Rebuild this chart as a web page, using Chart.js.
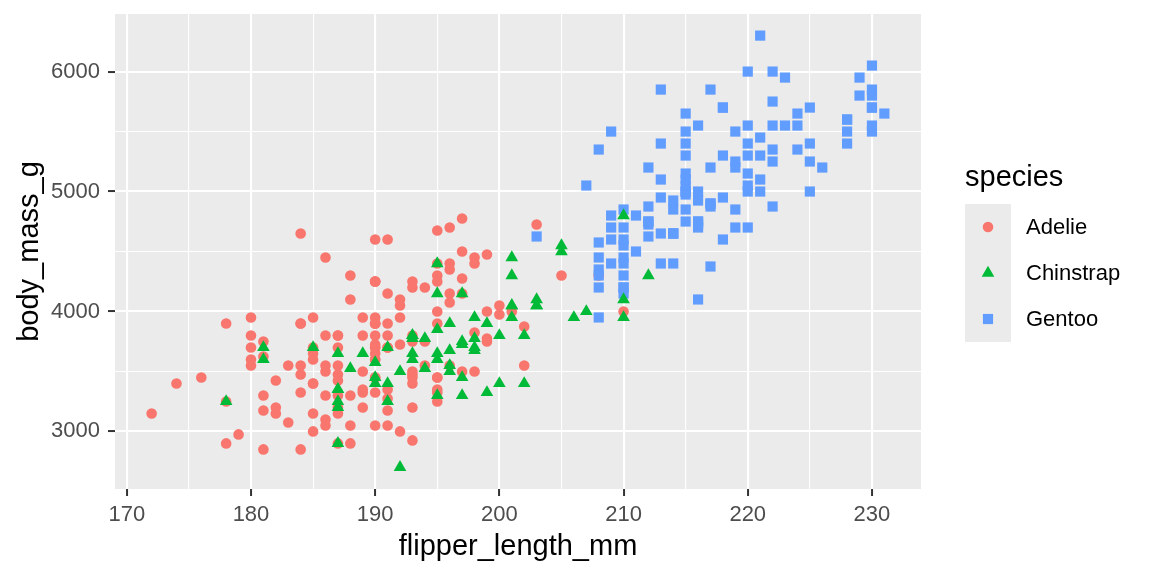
<!DOCTYPE html>
<html lang="en">
<head>
    <meta charset="UTF-8">
    <title>Penguins: flipper length vs body mass</title>
    <script src="https://cdn.jsdelivr.net/npm/chart.js"></script>
    <style>
        html, body { margin: 0; padding: 0; background: #ffffff; }
        #wrap { width: 1152px; height: 576px; }
    </style>
</head>
<body>
    <div id="wrap"><canvas id="penguinChart" width="1152" height="576"></canvas></div>

    <script>
        // data (flipper_length_mm, body_mass_g)
        const species = ['Adelie', 'Chinstrap', 'Gentoo'];

        const adelieFlipper = [
            181, 186, 195, 193, 190, 181, 195, 193, 190, 186, 180, 182, 191, 198, 185, 195, 197, 184, 194,
            174, 180, 189, 185, 180, 187, 183, 187, 172, 180,
            178, 178, 188, 184, 195, 196, 190, 180, 181, 184, 182, 195, 186, 196, 185, 190, 182, 179, 190, 191,
            186, 188, 190, 200, 187, 191, 186, 193, 181, 194, 185, 195, 185, 192, 184, 192, 195, 188, 190, 198,
            190, 190, 196, 197, 190, 195, 191, 184, 187, 195, 189, 196, 187, 193, 191, 194, 190, 189, 189, 190,
            202, 205, 185, 186, 187, 208, 190, 196, 178, 192,
            192, 203, 183, 190, 193, 184, 199, 190, 181, 197, 198, 191, 193, 197, 191, 196, 188, 199, 189, 189,
            187, 198, 176, 202, 186, 199, 191, 195, 191, 210, 190, 197, 193,
            199, 187, 190, 191, 200, 185, 193, 193, 187, 188, 190, 192, 185, 190, 184, 195, 193, 187, 201
        ];
        const adelieMass = [
            3750, 3800, 3250, 3450, 3650, 3625, 4675, 3475, 4250, 3300, 3700, 3200, 3800, 4400, 3700, 3450, 4500, 3325, 4200,
            3400, 3600, 3800, 3950, 3800, 3800, 3550, 3200, 3150, 3950,
            3250, 3900, 3300, 3900, 3325, 4150, 3950, 3550, 3300, 4650, 3150, 3900, 3100, 4400, 3000, 4600, 3425, 2975, 3450, 4150,
            3500, 4300, 3450, 4050, 2900, 3700, 3550, 3800, 2850, 3750, 3150, 4400, 3600, 4050, 2850, 3950, 3350, 4100, 3050, 4450,
            3600, 3900, 3550, 4150, 3700, 4250, 3700, 3900, 3550, 4000, 3200, 4700, 3800, 4200, 3350, 3550, 3800, 3500, 3950, 3600,
            3550, 4300, 3400, 4450, 3300, 4300, 3700, 4350, 2900, 4100,
            3725, 4725, 3075, 4250, 2925, 3550, 3750, 3900, 3175, 4775, 3825, 4600, 3200, 4275, 3900, 4075, 2900, 3775, 3350, 3325,
            3150, 3500, 3450, 3875, 3050, 4000, 3275, 4300, 3050, 4000, 3325, 3500, 3500,
            4475, 3425, 3900, 3175, 3975, 3400, 4250, 3400, 3475, 3050, 3725, 3000, 3650, 4250, 3475, 3450, 3750, 3700, 4000
        ];

        const chinstrapFlipper = [
            192, 196, 193, 188, 197, 198, 178, 197, 195, 198, 193, 194, 185, 201, 190, 201, 197, 181, 190, 195,
            181, 191, 187, 193, 195, 197, 200, 200, 191, 205, 187, 201, 187, 203, 195, 199, 195, 210, 192, 205,
            210, 187, 196, 196, 196, 201, 190, 212, 187, 198, 199, 201, 193, 203, 187, 197, 191, 203, 202, 194,
            206, 189, 195, 207, 202, 193, 210, 198
        ];
        const chinstrapMass = [
            3500, 3900, 3650, 3525, 3725, 3950, 3250, 3750, 4150, 3700, 3800, 3775, 3700, 4050, 3575, 4050, 3300, 3700, 3450, 4400,
            3600, 3400, 2900, 3800, 3300, 4150, 3400, 3800, 3700, 4550, 3200, 4300, 3350, 4100, 3600, 3900, 3850, 4800, 2700, 4500,
            3950, 3650, 3550, 3500, 3675, 4450, 3400, 4300, 3250, 3675, 3325, 3950, 3600, 4050, 3350, 3450, 3250, 4050, 3800, 3525,
            3950, 3650, 3650, 4000, 3400, 3775, 4100, 3775
        ];

        const gentooFlipper = [
            211, 230, 210, 218, 215, 210, 211, 219, 209, 215, 214, 216, 214, 213, 210, 217, 210, 221, 209, 222,
            218, 215, 213, 215, 215, 215, 216, 215, 210, 220, 222, 209, 207, 230, 220, 220, 213, 219, 208, 208,
            208, 225, 210, 216, 222, 217, 210, 225, 213, 215, 210, 220, 210, 225, 217, 220, 208, 220, 208, 224,
            208, 221, 214, 231, 219, 230, 214, 229, 220, 223, 216, 221, 221, 217, 216, 230, 209, 220, 215, 223,
            212, 221, 212, 224, 212, 228, 218, 218, 212, 230, 218, 228, 212, 224, 214, 226, 216, 222, 203, 225,
            219, 228, 215, 228, 216, 215, 210, 219, 208, 209, 216, 229, 213, 230, 217, 230, 217, 222, 214, 215,
            222, 212, 213
        ];
        const gentooMass = [
            4500, 5700, 4450, 5700, 5400, 4550, 4800, 5200, 4400, 5150, 4650, 5550, 4650, 5850, 4200, 5850, 4150, 6300, 4800, 5350,
            5700, 5000, 4400, 5050, 5000, 5100, 4100, 5650, 4600, 5550, 5250, 4700, 5050, 6050, 5150, 5400, 4950, 5250, 4350, 5350,
            3950, 5700, 4300, 4750, 5550, 4900, 4200, 5400, 5100, 5300, 4850, 5300, 4400, 5000, 4900, 5050, 4300, 5000, 4450, 5550,
            4200, 5300, 4400, 5650, 4700, 5700, 4650, 5800, 4700, 5550, 4750, 5000, 5100, 5200, 4700, 5800, 4600, 6000, 4750, 5950,
            4625, 5450, 4725, 5350, 4750, 5600, 4600, 5300, 4875, 5550, 4950, 5400, 4750, 5650, 4850, 5200, 4925, 4875, 4625, 5250,
            4850, 5600, 4975, 5500, 4725, 5500, 4700, 5500, 4575, 5500, 5000, 5950, 4650, 5500, 4375, 5850, 4875, 6000, 4925, 4850,
            5750, 5200, 5400
        ];

        // axis breaks: majors get labels, the in-between values only a thin grid line
        const xBreaks = [170, 175, 180, 185, 190, 195, 200, 205, 210, 215, 220, 225, 230];
        const xLabels = [170, 180, 190, 200, 210, 220, 230];
        const yBreaks = [3000, 3500, 4000, 4500, 5000, 5500, 6000];
        const yLabels = [3000, 4000, 5000, 6000];

        const colors = { Adelie: '#F8766D', Chinstrap: '#00BA38', Gentoo: '#619CFF' };
        const shapes = { Adelie: 'circle', Chinstrap: 'triangle', Gentoo: 'rect' };
        const radii = { Adelie: 5.3, Chinstrap: 7.3, Gentoo: 7.2 };

        const FONT = '"Liberation Sans", Arial, Helvetica, sans-serif';
        const TITLE_PX = 29;
        const TEXT_PX = 22;

        function toPoints(xs, ys) {
            return xs.map((x, i) => ({ x: x, y: ys[i] }));
        }

        function makeSet(name, xs, ys, order) {
            return {
                label: name,
                data: toPoints(xs, ys),
                pointStyle: shapes[name],
                pointRadius: radii[name],
                pointHoverRadius: radii[name],
                backgroundColor: colors[name],
                borderWidth: 0,
                order: order
            };
        }

        // ggplot-ish panel background, axis titles and legend
        const ggDecor = {
            id: 'ggDecor',
            beforeDraw(chart) {
                const { ctx, chartArea: a } = chart;
                ctx.save();
                ctx.fillStyle = '#EBEBEB';
                ctx.fillRect(a.left, a.top, a.right - a.left, a.bottom - a.top);
                ctx.restore();
            },
            afterDraw(chart) {
                const { ctx, chartArea: a } = chart;
                ctx.save();
                ctx.fillStyle = '#000000';
                ctx.font = TITLE_PX + 'px ' + FONT;
                ctx.textAlign = 'center';
                ctx.textBaseline = 'alphabetic';
                ctx.fillText('flipper_length_mm', (a.left + a.right) / 2, 555);

                ctx.save();
                ctx.translate(37.5, (a.top + a.bottom) / 2);
                ctx.rotate(-Math.PI / 2);
                ctx.fillText('body_mass_g', 0, 0);
                ctx.restore();

                // legend
                ctx.textAlign = 'left';
                ctx.fillText('species', 965, 186);
                ctx.fillStyle = '#EBEBEB';
                ctx.fillRect(965, 204, 46, 138);
                ctx.font = TEXT_PX + 'px ' + FONT;
                ctx.textBaseline = 'middle';
                species.forEach((name, i) => {
                    const cy = 227 + i * 46;
                    ctx.fillStyle = colors[name];
                    Chart.helpers.drawPoint(ctx, {
                        pointStyle: shapes[name], radius: radii[name], rotation: 0, borderWidth: 0
                    }, 988, cy);
                    ctx.fillStyle = '#000000';
                    ctx.fillText(name, 1026, cy + 1);
                });
                ctx.restore();
            }
        };

        function gridWidth(isMajor) {
            return isMajor ? 2.1 : 1.1;
        }

        new Chart(document.getElementById('penguinChart'), {
            type: 'scatter',
            data: {
                datasets: [
                    makeSet('Adelie', adelieFlipper, adelieMass, 2),
                    makeSet('Gentoo', gentooFlipper, gentooMass, 1),
                    makeSet('Chinstrap', chinstrapFlipper, chinstrapMass, 0)
                ]
            },
            options: {
                responsive: false,
                devicePixelRatio: 1,
                animation: false,
                layout: { padding: { left: 0, right: 231, top: 14, bottom: 0 } },
                plugins: {
                    legend: { display: false },
                    tooltip: { enabled: false }
                },
                scales: {
                    x: {
                        type: 'linear',
                        min: 169.05,
                        max: 233.95,
                        afterBuildTicks: s => { s.ticks = xBreaks.map(v => ({ value: v })); },
                        afterFit: s => {
                            s.height = 87;
                            s.paddingLeft = 0;
                            s.paddingRight = 0;
                        },
                        border: { display: false },
                        grid: {
                            color: '#FFFFFF',
                            lineWidth: c => gridWidth(xLabels.includes(c.tick.value)),
                            drawTicks: true,
                            tickLength: 7,
                            tickWidth: 2,
                            tickColor: c => xLabels.includes(c.tick.value) ? '#333333' : 'rgba(0,0,0,0)'
                        },
                        ticks: {
                            autoSkip: false,
                            maxRotation: 0,
                            padding: 6,
                            color: '#4D4D4D',
                            font: { family: FONT, size: TEXT_PX },
                            callback: v => xLabels.includes(v) ? String(v) : ''
                        }
                    },
                    y: {
                        type: 'linear',
                        min: 2520,
                        max: 6480,
                        afterBuildTicks: s => { s.ticks = yBreaks.map(v => ({ value: v })); },
                        afterFit: s => {
                            s.width = 115;
                            s.paddingTop = 0;
                            s.paddingBottom = 0;
                        },
                        border: { display: false },
                        grid: {
                            color: '#FFFFFF',
                            lineWidth: c => gridWidth(yLabels.includes(c.tick.value)),
                            drawTicks: true,
                            tickLength: 7,
                            tickWidth: 2,
                            tickColor: c => yLabels.includes(c.tick.value) ? '#333333' : 'rgba(0,0,0,0)'
                        },
                        ticks: {
                            autoSkip: false,
                            padding: 8,
                            color: '#4D4D4D',
                            font: { family: FONT, size: TEXT_PX },
                            callback: v => yLabels.includes(v) ? String(v) : ''
                        }
                    }
                }
            },
            plugins: [ggDecor]
        });
    </script>
</body>
</html>
